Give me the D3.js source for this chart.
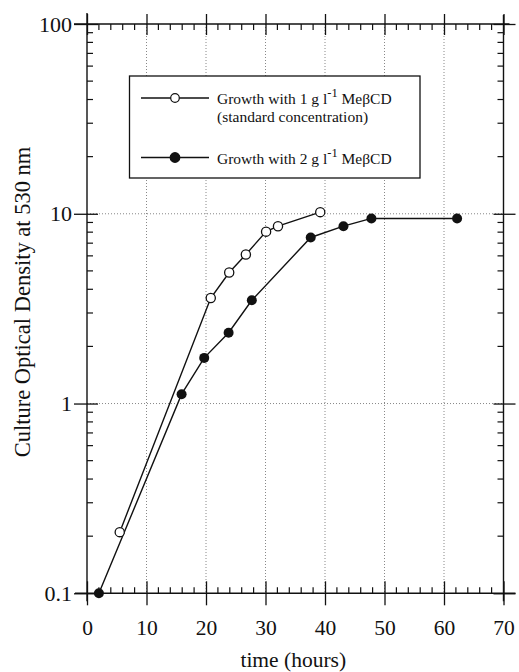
<!DOCTYPE html>
<html>
<head>
<meta charset="utf-8">
<script src="https://cdn.jsdelivr.net/npm/d3@7"></script>
<style>
  html, body { margin: 0; padding: 0; background: #fff; }
  svg { display: block; }
  svg text { font-family: "Liberation Serif", "Times New Roman", Times, serif !important; fill: #111; }
</style>
</head>
<body>
<svg id="chart" width="519" height="672"></svg>
<script>
// Growth of cultures at two MeβCD concentrations (optical density, log scale)
const hours1g = [5.5, 20.8, 23.9, 26.7, 30.1, 32.1, 39.2];
const od1g    = [0.21, 3.6, 4.9, 6.1, 8.05, 8.6, 10.2];
const hours2g = [2.0, 15.9, 19.7, 23.8, 27.7, 37.6, 43.1, 47.8, 62.2];
const od2g    = [0.1, 1.12, 1.74, 2.36, 3.5, 7.5, 8.6, 9.45, 9.45];

const xTicks = [0, 10, 20, 30, 40, 50, 60, 70];
const yTicks = [0.1, 1, 10, 100];
const yTickLabels = ["0.1", "1", "10", "100"];
const legendLabels = ["Growth with 1 g l", "Growth with 2 g l"];

const serif = "'Liberation Serif', 'Times New Roman', Times, serif";
const svg = d3.select("#chart").style("font-family", serif);
const x = d3.scaleLinear().domain([0, 70]).range([87, 503.5]);
const y = d3.scaleLog().domain([0.1, 100]).range([593.3, 24]);

const ink = "#111";

// dotted grid lines at interior decades and tens of hours
const grid = svg.append("g").attr("stroke", "#888").attr("stroke-width", 1)
  .attr("stroke-dasharray", "1,2");
grid.selectAll("line.v").data(xTicks.slice(1, -1)).join("line").attr("class", "v")
  .attr("x1", d => x(d)).attr("x2", d => x(d))
  .attr("y1", y(100)).attr("y2", y(0.1));
grid.selectAll("line.h").data([1, 10]).join("line").attr("class", "h")
  .attr("x1", x(0)).attr("x2", x(70))
  .attr("y1", d => y(d)).attr("y2", d => y(d));

// minor tick values
const xMinor = d3.range(2, 70, 2).filter(v => v % 10 !== 0);
const yMinor = [];
[0.1, 1, 10].forEach(dec => { for (let k = 2; k <= 9; k++) yMinor.push(dec * k); });

// bottom axis: major ticks cross the line, minor ticks point inward
const bottomAxis = svg.append("g").attr("transform", `translate(0,${y(0.1)})`)
  .call(d3.axisBottom(x).tickValues(xTicks).tickSize(-12).tickSizeOuter(0).tickPadding(29)
    .tickFormat(d3.format("d")));
bottomAxis.attr("font-family", serif);
bottomAxis.select(".domain").attr("stroke", ink).attr("stroke-width", 1.4)
  .attr("d", `M${x(0) - 12},0H${x(70) + 12}`);
bottomAxis.selectAll(".tick line").attr("stroke", ink).attr("stroke-width", 1.3)
  .attr("y1", 12).attr("y2", -12);
bottomAxis.selectAll(".tick text").attr("font-size", 21.5)
  .attr("fill", ink).attr("dy", "0.6em");
bottomAxis.selectAll("line.minor").data(xMinor).join("line").attr("class", "minor")
  .attr("x1", d => x(d)).attr("x2", d => x(d)).attr("y1", 0).attr("y2", -6)
  .attr("stroke", ink).attr("stroke-width", 1.2);

// top axis
const topAxis = svg.append("g").attr("transform", `translate(0,${y(100)})`)
  .call(d3.axisTop(x).tickValues(xTicks).tickSize(-12).tickSizeOuter(0).tickFormat(""));
topAxis.select(".domain").attr("stroke", ink).attr("stroke-width", 1.4)
  .attr("d", `M${x(0) - 13},0H${x(70) + 6}`);
topAxis.selectAll(".tick line").attr("stroke", ink).attr("stroke-width", 1.3)
  .attr("y1", -10).attr("y2", 11);
topAxis.selectAll("line.minor").data(xMinor).join("line").attr("class", "minor")
  .attr("x1", d => x(d)).attr("x2", d => x(d)).attr("y1", 0).attr("y2", 6)
  .attr("stroke", ink).attr("stroke-width", 1.2);

// left axis
const leftAxis = svg.append("g").attr("transform", `translate(${x(0)},0)`)
  .call(d3.axisLeft(y).tickValues(yTicks).tickSize(12).tickSizeOuter(0).tickPadding(4)
    .tickFormat((d, i) => yTickLabels[i]));
leftAxis.attr("font-family", serif);
leftAxis.select(".domain").attr("stroke", ink).attr("stroke-width", 1.4)
  .attr("d", `M0,${y(100) - 11}V${y(0.1) + 8}`);
leftAxis.selectAll(".tick line").attr("stroke", ink).attr("stroke-width", 1.3)
  .attr("x1", -13).attr("x2", 11);
leftAxis.selectAll(".tick text").attr("font-size", 22).attr("x", -15).attr("fill", ink);
leftAxis.selectAll("line.minor").data(yMinor).join("line").attr("class", "minor")
  .attr("y1", d => y(d)).attr("y2", d => y(d)).attr("x1", 0).attr("x2", 6)
  .attr("stroke", ink).attr("stroke-width", 1.2);

// right axis
const rightAxis = svg.append("g").attr("transform", `translate(${x(70)},0)`)
  .call(d3.axisRight(y).tickValues(yTicks).tickSize(12).tickSizeOuter(0).tickFormat(""));
rightAxis.select(".domain").attr("stroke", ink).attr("stroke-width", 1.4)
  .attr("d", `M0,${y(100) - 9}V${y(0.1) + 8}`);
rightAxis.selectAll(".tick line").attr("stroke", ink).attr("stroke-width", 1.3)
  .attr("x1", -10).attr("x2", 12);
rightAxis.selectAll("line.minor").data(yMinor).join("line").attr("class", "minor")
  .attr("y1", d => y(d)).attr("y2", d => y(d)).attr("x1", 0).attr("x2", -6)
  .attr("stroke", ink).attr("stroke-width", 1.2);

// axis titles
svg.append("text").attr("x", x(35) - 2).attr("y", 667).attr("text-anchor", "middle")
  .attr("font-size", 21.5).text("time (hours)");
svg.append("text").attr("transform", "translate(30,302) rotate(-90)")
  .attr("text-anchor", "middle").attr("font-size", 22.5)
  .text("Culture Optical Density at 530 nm");

// series
const line = d3.line().x(d => x(d[0])).y(d => y(d[1]));
const s1 = hours1g.map((h, i) => [h, od1g[i]]);
const s2 = hours2g.map((h, i) => [h, od2g[i]]);

svg.append("path").datum(s1).attr("d", line)
  .attr("fill", "none").attr("stroke", ink).attr("stroke-width", 1.4);
svg.append("path").datum(s2).attr("d", line)
  .attr("fill", "none").attr("stroke", ink).attr("stroke-width", 1.4);

svg.append("g").selectAll("circle").data(s1).join("circle")
  .attr("cx", d => x(d[0])).attr("cy", d => y(d[1])).attr("r", 4.6)
  .attr("fill", "#fff").attr("stroke", ink).attr("stroke-width", 1.3);
svg.append("g").selectAll("circle").data(s2).join("circle")
  .attr("cx", d => x(d[0])).attr("cy", d => y(d[1])).attr("r", 5)
  .attr("fill", ink);

// legend
const lg = svg.append("g");
lg.append("rect").attr("x", 129.5).attr("y", 76).attr("width", 290.5).attr("height", 102)
  .attr("fill", "#fff").attr("stroke", ink).attr("stroke-width", 1.3);
const rows = [
  { yy: 98, open: true, label: legendLabels[0], sub: "(standard concentration)" },
  { yy: 157.5, open: false, label: legendLabels[1] }
];
rows.forEach(r => {
  lg.append("line").attr("x1", 141).attr("x2", 209).attr("y1", r.yy).attr("y2", r.yy)
    .attr("stroke", ink).attr("stroke-width", 1.3);
  lg.append("circle").attr("cx", 175).attr("cy", r.yy).attr("r", r.open ? 4.3 : 4.8)
    .attr("fill", r.open ? "#fff" : ink).attr("stroke", ink).attr("stroke-width", 1.2);
  const t = lg.append("text").attr("x", 217).attr("y", r.yy + 6).attr("font-size", 15.5);
  t.append("tspan").text(r.label);
  t.append("tspan").attr("dy", -7).attr("font-size", 12.5).text("-1");
  t.append("tspan").attr("dy", 7).text(" MeβCD");
  if (r.sub) {
    lg.append("text").attr("x", 217).attr("y", r.yy + 23.5).attr("font-size", 15.5).text(r.sub);
  }
});
</script>
</body>
</html>
